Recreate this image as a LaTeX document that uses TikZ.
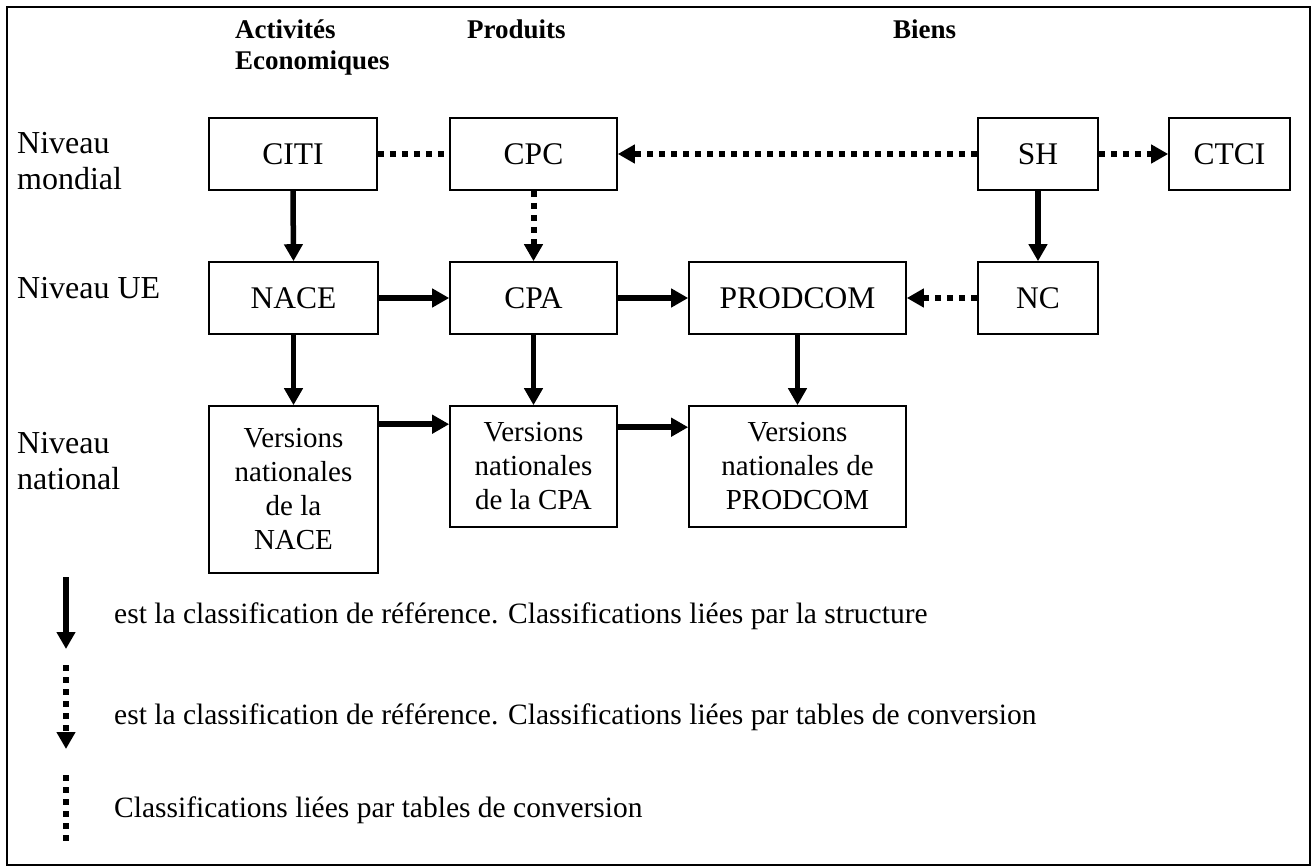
\documentclass[tikz,border=0pt]{standalone}
\usepackage{fontspec}
\setmainfont{Liberation Serif}
\usetikzlibrary{arrows.meta,calc}
\begin{document}
\begin{tikzpicture}[x=1pt,y=-1pt,
  box/.style={draw, line width=1.6pt, inner sep=0pt, align=center, font=\fontsize{31.5}{34}\selectfont},
  vbox/.style={box, font=\fontsize{29}{34}\selectfont},
  lbl/.style={anchor=base west, inner sep=0pt, font=\fontsize{32}{36}\selectfont},
  leg/.style={anchor=base west, inner sep=0pt, font=\fontsize{29.5}{34}\selectfont},
  hdr/.style={anchor=base west, inner sep=0pt, font=\fontsize{27}{30}\selectfont\bfseries},
  strong/.style={line width=5.5pt, -{Triangle[length=17pt,width=18pt]}},
  dotline/.style={line width=6pt, dash pattern=on 6pt off 6pt},
  dotarrow/.style={dotline, -{Triangle[length=17pt,width=18pt]}}
]
\useasboundingbox (0,0) rectangle (1312,867);
\draw[line width=1.2pt] (7,7) rectangle (1310,865);

% headers
\node[hdr] (h1a) at (235,39) {Activités};
\node[hdr] (h1b) at (235,70) {Economiques};
\node[hdr] (h2) at (467,39) {Produits};
\node[hdr] (h3) at (893,39) {Biens};

% row labels
\node[lbl] (r1a) at (17,153) {Niveau};
\node[lbl] (r1b) at (17,189) {mondial};
\node[lbl] (r2) at (17,298) {Niveau UE};
\node[lbl] (r3a) at (17,453) {Niveau};
\node[lbl] (r3b) at (17,489) {national};

% top row
\node[box, minimum width=168, minimum height=72] (citi) at (293,154) {CITI};
\node[box, minimum width=167, minimum height=72] (cpc) at (533.5,154) {CPC};
\node[box, minimum width=120, minimum height=72] (sh) at (1038,154) {SH};
\node[box, minimum width=121, minimum height=72] (ctci) at (1229.5,154) {CTCI};

% middle row
\node[box, minimum width=169, minimum height=72] (nace) at (293.5,298) {NACE};
\node[box, minimum width=167, minimum height=72] (cpa) at (533.5,298) {CPA};
\node[box, minimum width=217, minimum height=72] (prodcom) at (797.5,298) {PRODCOM};
\node[box, minimum width=120, minimum height=72] (nc) at (1038,298) {NC};

% bottom row
\node[vbox, minimum width=169, minimum height=167] (vnace) at (293.5,489.5) {Versions\\nationales\\de la\\NACE};
\node[vbox, minimum width=167, minimum height=121] (vcpa) at (533.5,466.5) {Versions\\nationales\\de la CPA};
\node[vbox, minimum width=217, minimum height=121] (vprod) at (797.5,466.5) {Versions\\nationales de\\PRODCOM};

% connectors
\draw[dotline] (citi.east) -- (cpc.west);
\draw[dotarrow] (sh.west) -- (cpc.east);
\draw[dotarrow] (sh.east) -- (ctci.west);
\draw[strong] (citi.south) -- (nace.north);
\draw[dotarrow] (cpc.south) -- (cpa.north);
\draw[strong] (sh.south) -- (nc.north);
\draw[strong] (nace.east) -- (cpa.west);
\draw[strong] (cpa.east) -- (prodcom.west);
\draw[dotarrow] (nc.west) -- (prodcom.east);
\draw[strong] (nace.south) -- (vnace.north);
\draw[strong] (cpa.south) -- (vcpa.north);
\draw[strong] (prodcom.south) -- (vprod.north);
\draw[strong] ($(vnace.north east)+(0,19)$) -- ($(vcpa.north west)+(0,19)$);
\draw[strong] ($(vcpa.north east)+(0,22)$) -- ($(vprod.north west)+(0,22)$);

% legend
\coordinate (l1a) at (66,577);
\coordinate (l1b) at (66,649);
\coordinate (l2a) at (66,665);
\coordinate (l2b) at (66,749);
\coordinate (l3a) at (66,775);
\coordinate (l3b) at (66,843);
\draw[strong] (l1a) -- (l1b);
\draw[dotarrow] (l2a) -- (l2b);
\draw[dotline] (l3a) -- (l3b);
\node[leg] (t1) at (114,623) {est la classification de référence. Classifications liées par la structure};
\node[leg] (t2) at (114,724) {est la classification de référence. Classifications liées par tables de conversion};
\node[leg] (t3) at (114,817) {Classifications liées par tables de conversion};
\end{tikzpicture}
\end{document}
